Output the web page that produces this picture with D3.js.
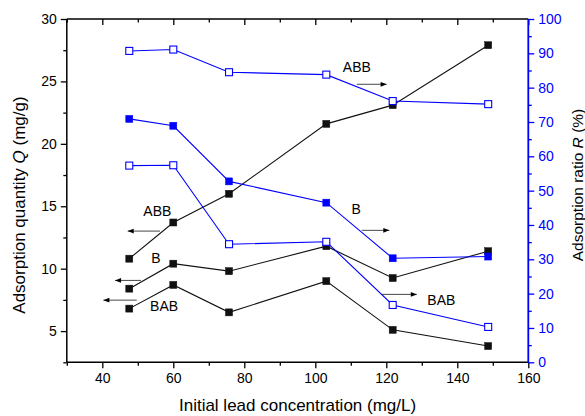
<!DOCTYPE html>
<html>
<head>
<meta charset="utf-8">
<script src="https://cdn.jsdelivr.net/npm/d3@7"></script>
<style>
  html, body { margin: 0; padding: 0; background: #ffffff; }
  svg { display: block; }
  text { font-family: "Liberation Sans", Arial, sans-serif; }
</style>
</head>
<body>
<svg id="chart" width="585" height="416"></svg>
<script>
// ---- Data ----
const concentration = [47.6, 60, 75.7, 103.1, 121.8, 148.7];

// Adsorption quantity Q (mg/g) - left axis, black filled squares
const qABB = [10.8, 13.7, 16.0, 21.6, 23.1, 27.9];
const qB   = [8.4, 10.4, 9.8, 11.8, 9.25, 11.4];
const qBAB = [6.8, 8.7, 6.5, 9.0, 5.1, 3.8];

// Adsorption ratio R (%) - right axis, blue
const rABB = [90.7, 91.1, 84.5, 83.8, 76.1, 75.2];
const rB   = [70.9, 68.9, 52.7, 46.5, 30.3, 30.8];
const rBAB = [57.3, 57.4, 34.4, 35.1, 16.7, 10.3];

const xMajorTicks = [40, 60, 80, 100, 120, 140, 160];
const xMinorTicks = [30, 50, 70, 90, 110, 130, 150];
const qMajorTicks = [5, 10, 15, 20, 25, 30];
const qMinorTicks = [2.5, 7.5, 12.5, 17.5, 22.5, 27.5];
const rMajorTicks = [0, 10, 20, 30, 40, 50, 60, 70, 80, 90, 100];
const rMinorTicks = [5, 15, 25, 35, 45, 55, 65, 75, 85, 95];

// Annotation labels (data coordinates on the left Q axis)
const labelTexts = ["ABB", "B", "BAB", "ABB", "B", "BAB"];
const labelX = [55.5, 55.1, 57.4, 111.7, 111.5, 135.5];
const labelQ = [14.48, 10.75, 6.9, 26.05, 14.7, 7.35];
const arrowX1 = [56.25, 50.9, 49.7, 111.7, 113.1, 118.7];
const arrowX2 = [47.15, 43.6, 40.3, 120.1, 120.85, 128.6];
const arrowQ  = [13.01, 9.06, 7.48, 24.77, 13.07, 7.94];

// ---- Chart ----
const svg = d3.select("#chart");
const pLeft = 66.8, pRight = 528.3, pTop = 19, pBottom = 362.3;
const BLUE = "#0000ff";
const BLACK = "#111111";

const x = d3.scaleLinear().domain([30, 160]).range([pLeft, pRight]);
const yQ = d3.scaleLinear().domain([2.5, 30]).range([pBottom, pTop]);
const yR = d3.scaleLinear().domain([0, 100]).range([pBottom, pTop]);

const defs = svg.append("defs");
defs.append("marker").attr("id", "arrowhead")
  .attr("viewBox", "0 0 10 10").attr("refX", 10).attr("refY", 5)
  .attr("markerWidth", 9).attr("markerHeight", 6).attr("markerUnits", "userSpaceOnUse")
  .attr("orient", "auto")
  .append("path").attr("d", "M0,1 L10,5 L0,9 Z").attr("fill", "#000");

function styleAxis(g, color) {
  g.select(".domain").remove();
  g.selectAll("line").attr("stroke", color).attr("stroke-width", 1.3);
  g.selectAll("text").attr("fill", color).attr("font-size", 14);
}

// bottom axis
svg.append("g").attr("transform", `translate(0,${pBottom})`)
  .call(d3.axisBottom(x).tickValues(xMajorTicks).tickSize(6).tickPadding(5).tickFormat(d3.format("d")))
  .call(g => styleAxis(g, "#000"));
svg.append("g").attr("transform", `translate(0,${pBottom})`)
  .call(d3.axisBottom(x).tickValues(xMinorTicks).tickSize(3.5).tickFormat(""))
  .call(g => styleAxis(g, "#000"));
// top axis (inward ticks)
svg.append("g").attr("transform", `translate(0,${pTop})`)
  .call(d3.axisTop(x).tickValues(xMajorTicks).tickSize(-6).tickFormat(""))
  .call(g => styleAxis(g, "#000"));
svg.append("g").attr("transform", `translate(0,${pTop})`)
  .call(d3.axisTop(x).tickValues(xMinorTicks).tickSize(-3.5).tickFormat(""))
  .call(g => styleAxis(g, "#000"));
// left axis
svg.append("g").attr("transform", `translate(${pLeft},0)`)
  .call(d3.axisLeft(yQ).tickValues(qMajorTicks).tickSize(6).tickPadding(4).tickFormat(d3.format("d")))
  .call(g => styleAxis(g, "#000"));
svg.append("g").attr("transform", `translate(${pLeft},0)`)
  .call(d3.axisLeft(yQ).tickValues(qMinorTicks).tickSize(3.5).tickFormat(""))
  .call(g => styleAxis(g, "#000"));
// right axis
svg.append("g").attr("transform", `translate(${pRight},0)`)
  .call(d3.axisRight(yR).tickValues(rMajorTicks).tickSize(6).tickPadding(4).tickFormat(d3.format("d")))
  .call(g => styleAxis(g, BLUE));
svg.append("g").attr("transform", `translate(${pRight},0)`)
  .call(d3.axisRight(yR).tickValues(rMinorTicks).tickSize(3.5).tickFormat(""))
  .call(g => styleAxis(g, BLUE));

// frame
svg.append("line").attr("x1", pLeft).attr("x2", pRight).attr("y1", pTop).attr("y2", pTop).attr("stroke", "#000").attr("stroke-width", 1.5);
svg.append("line").attr("x1", pLeft).attr("x2", pRight).attr("y1", pBottom).attr("y2", pBottom).attr("stroke", "#000").attr("stroke-width", 1.5);
svg.append("line").attr("x1", pLeft).attr("x2", pLeft).attr("y1", pTop).attr("y2", pBottom).attr("stroke", "#000").attr("stroke-width", 1.5);
svg.append("line").attr("x1", pRight).attr("x2", pRight).attr("y1", pTop).attr("y2", pBottom + 0.7).attr("stroke", BLUE).attr("stroke-width", 1.8);

// axis titles
svg.append("text").attr("x", (pLeft + pRight) / 2).attr("y", 411)
  .attr("text-anchor", "middle").attr("font-size", 17).attr("fill", "#000")
  .text("Initial lead concentration (mg/L)");

const lt = svg.append("text").attr("transform", `translate(25,205) rotate(-90)`)
  .attr("text-anchor", "middle").attr("font-size", 17).attr("fill", "#000");
lt.append("tspan").text("Adsorption quantity ");
lt.append("tspan").attr("font-style", "italic").text("Q");
lt.append("tspan").text(" (mg/g)");

const rt = svg.append("text").attr("transform", `translate(583,185) rotate(-90)`)
  .attr("text-anchor", "middle").attr("font-size", 15.5).attr("fill", "#000");
rt.append("tspan").text("Adsorption ratio ");
rt.append("tspan").attr("font-style", "italic").text("R");
rt.append("tspan").text(" (%)");

// series
const ms = 7;
function drawSeries(values, yScale, color, filled, lineW) {
  const pts = concentration.map((c, i) => [x(c), yScale(values[i])]);
  svg.append("path").attr("d", d3.line()(pts)).attr("fill", "none")
    .attr("stroke", color).attr("stroke-width", lineW);
  svg.append("g").selectAll("rect").data(pts).join("rect")
    .attr("x", d => d[0] - ms / 2).attr("y", d => d[1] - ms / 2)
    .attr("width", ms).attr("height", ms)
    .attr("fill", filled ? color : "#ffffff")
    .attr("stroke", color).attr("stroke-width", filled ? 0.5 : 1.1);
}
drawSeries(qABB, yQ, BLACK, true, 1.1);
drawSeries(qB, yQ, BLACK, true, 1.1);
drawSeries(qBAB, yQ, BLACK, true, 1.1);
drawSeries(rABB, yR, BLUE, false, 1.1);
drawSeries(rB, yR, BLUE, true, 1.1);
drawSeries(rBAB, yR, BLUE, false, 1.1);

// annotations
labelTexts.forEach((t, i) => {
  svg.append("text").attr("x", x(labelX[i])).attr("y", yQ(labelQ[i]))
    .attr("text-anchor", "middle").attr("dominant-baseline", "middle")
    .attr("font-size", 14).attr("fill", "#000").text(t);
  svg.append("line").attr("x1", x(arrowX1[i])).attr("x2", x(arrowX2[i]))
    .attr("y1", yQ(arrowQ[i])).attr("y2", yQ(arrowQ[i]))
    .attr("stroke", "#333").attr("stroke-width", 0.9)
    .attr("marker-end", "url(#arrowhead)");
});
</script>
</body>
</html>
